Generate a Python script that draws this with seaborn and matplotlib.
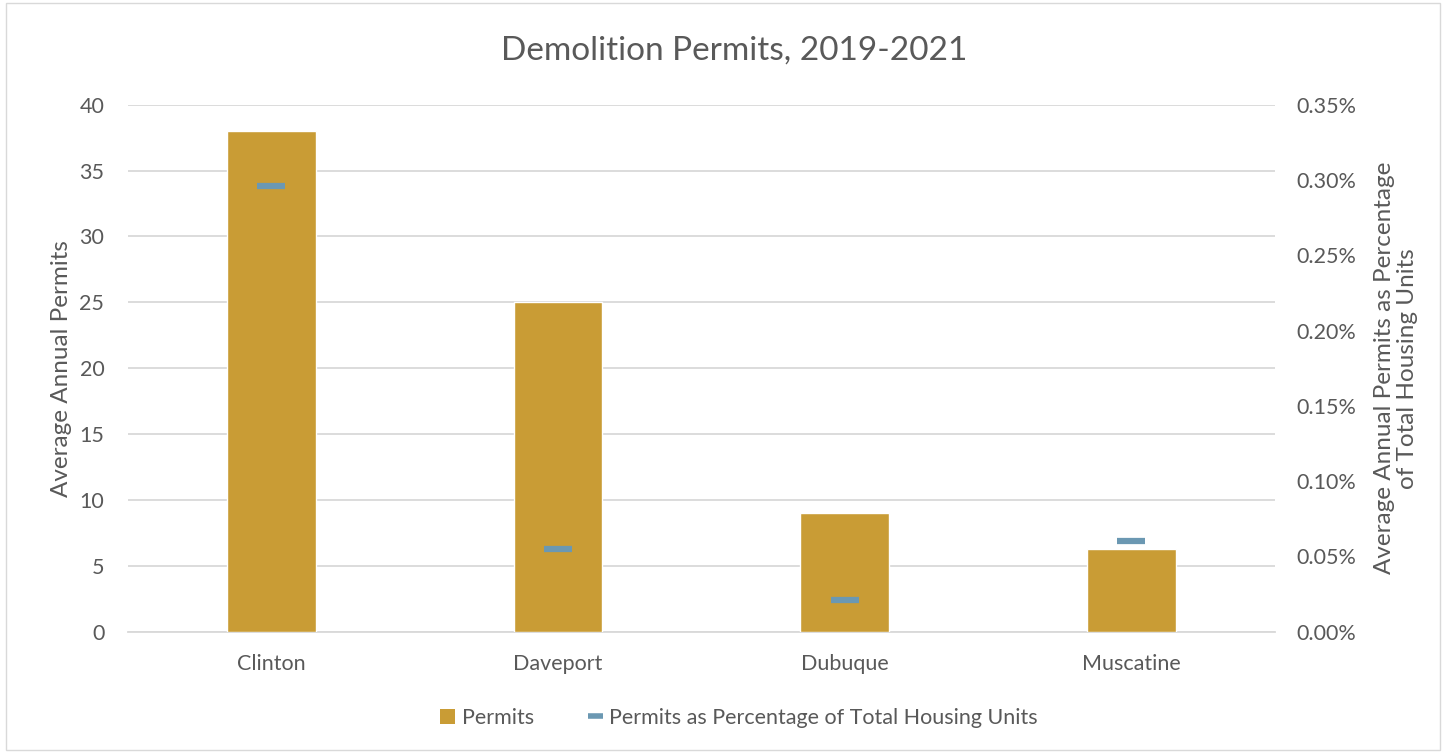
import matplotlib
matplotlib.use("Agg")
import matplotlib.pyplot as plt
from matplotlib.lines import Line2D
from matplotlib.patches import Patch, Rectangle
from matplotlib.ticker import FuncFormatter, MultipleLocator
import seaborn as sns
import pandas as pd

cities = ["Clinton", "Daveport", "Dubuque", "Muscatine"]
permits = [38, 25, 9, 6.3]
pct_of_housing = [0.296, 0.055, 0.021, 0.060]  # percent

bar_color = "#C99C35"
dash_color = "#6B98B2"
text_color = "#595959"
grid_color = "#D9D9D9"

sns.set_theme(style="white")
plt.rcParams["font.family"] = ["Lato", "DejaVu Sans"]

df = pd.DataFrame({"city": cities, "permits": permits, "pct": pct_of_housing})

fig = plt.figure(figsize=(14.46, 7.53), dpi=100)
ax = fig.add_axes([0.0885, 0.161, 0.793, 0.700])

sns.barplot(data=df, x="city", y="permits", color=bar_color, width=0.31,
            saturation=1, ax=ax, zorder=3)
ax.set_ylim(0, 40)
ax.yaxis.set_major_locator(MultipleLocator(5))
ax.set_xlim(-0.5, len(cities) - 0.5)
ax.grid(axis="y", color=grid_color, linewidth=1.3, zorder=0)
ax.set_axisbelow(True)
for s in ax.spines.values():
    s.set_visible(False)
ax.spines["bottom"].set_visible(True)
ax.spines["bottom"].set_color(grid_color)
ax.spines["bottom"].set_linewidth(1.3)
ax.tick_params(axis="x", length=0, labelsize=15.5, labelcolor=text_color, pad=16)
ax.tick_params(axis="y", length=0, labelsize=15.5, labelcolor=text_color, pad=17)
ax.set_xlabel("")
ax.set_ylabel("Average Annual Permits", fontsize=17.5, color=text_color, labelpad=5)

ax2 = ax.twinx()
sns.scatterplot(data=df, x="city", y="pct", marker="_", s=420, linewidth=4.5,
                color=dash_color, ax=ax2, zorder=5, legend=False)
ax2.set_ylim(0, 0.35)
ax2.yaxis.set_major_locator(MultipleLocator(0.05))
ax2.yaxis.set_major_formatter(FuncFormatter(lambda v, _: f"{v:.2f}%"))
for s in ax2.spines.values():
    s.set_visible(False)
ax2.tick_params(axis="y", length=0, labelsize=15.5, labelcolor=text_color, pad=16)
ax2.set_ylabel("Average Annual Permits as Percentage\nof Total Housing Units",
               fontsize=17.5, color=text_color, labelpad=12, linespacing=1.15)

fig.suptitle("Demolition Permits, 2019-2021", fontsize=24, color=text_color,
             x=0.508, y=0.953)

handles = [
    Patch(facecolor=bar_color, edgecolor="none", label="Permits"),
    Line2D([0], [0], color=dash_color, linewidth=4, solid_capstyle="butt",
           label="Permits as Percentage of Total Housing Units"),
]
fig.legend(handles=handles, loc="center", bbox_to_anchor=(0.511, 0.047), ncol=2,
           frameon=False, fontsize=15.5, labelcolor=text_color,
           handlelength=0.7, handleheight=0.7, handletextpad=0.3, columnspacing=2.5)

fig.patches.append(Rectangle((0.004, 0.004), 0.992, 0.992, transform=fig.transFigure,
                             fill=False, edgecolor="#D9D9D9", linewidth=1))

fig.savefig("out.png", dpi=100)
